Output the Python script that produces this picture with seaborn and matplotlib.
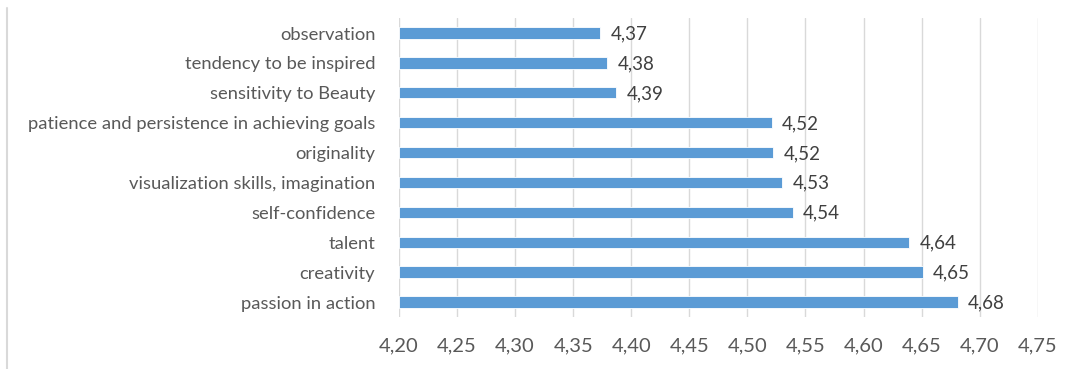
import matplotlib
matplotlib.use("Agg")
import matplotlib.pyplot as plt
import seaborn as sns
import pandas as pd

categories = [
    "observation",
    "tendency to be inspired",
    "sensitivity to Beauty",
    "patience and persistence in achieving goals",
    "originality",
    "visualization skills, imagination",
    "self-confidence",
    "talent",
    "creativity",
    "passion in action",
]
values = [4.373, 4.379, 4.387, 4.521, 4.522, 4.530, 4.539, 4.639, 4.651, 4.681]
xticks = [4.20, 4.25, 4.30, 4.35, 4.40, 4.45, 4.50, 4.55, 4.60, 4.65, 4.70, 4.75]

BASE = 4.20
df = pd.DataFrame({"category": categories, "value": values})
df["length"] = df["value"] - BASE

sns.set_theme(style="white")
plt.rcParams["font.family"] = ["Lato", "DejaVu Sans"]

fig = plt.figure(figsize=(10.71, 3.69), dpi=100)
ax = fig.add_axes([0.3725, 0.141, 0.5965, 0.81])

# bars drawn from the axis origin (4.20) via seaborn on the shifted lengths
sns.barplot(data=df, x="length", y="category", orient="h", color="#5B9BD5",
            saturation=1, width=0.38, ax=ax)
for p in ax.patches:
    p.set_x(p.get_x() + BASE)
    p.set_edgecolor("white")
    p.set_linewidth(0.6)

ax.set_xlim(xticks[0], xticks[-1])
ax.set_ylim(9.5, -0.5)
ax.set_xticks(xticks)
ax.set_xticklabels([f"{t:.2f}".replace(".", ",") for t in xticks],
                   fontsize=14.5, color="#595959")
ax.tick_params(axis="x", length=0, pad=15)
ax.tick_params(axis="y", length=0, pad=17, labelsize=13.2, labelcolor="#595959")
ax.set_xlabel("")
ax.set_ylabel("")
ax.grid(axis="x", color="#D9D9D9", linewidth=1)
ax.set_axisbelow(True)
for s in ax.spines.values():
    s.set_visible(False)

for i, v in enumerate(values):
    ax.text(v + 0.009, i + 0.03, f"{v:.2f}".replace(".", ","), va="center", ha="left",
            fontsize=13.5, color="#404040")

# light frame line at left edge of chart
fig.add_artist(plt.Line2D([7 / 1071, 7 / 1071], [0, 1 - 8 / 369],
                          transform=fig.transFigure, color="#D9D9D9", linewidth=1.5))

fig.savefig("out.png", dpi=100)
